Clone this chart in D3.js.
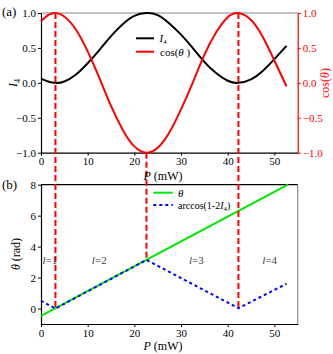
<!DOCTYPE html>
<html>
<head>
<meta charset="utf-8">
<script src="https://cdn.jsdelivr.net/npm/d3@7"></script>
<style>
  body { margin: 0; background: #fff; }
  svg text { font-family: "Liberation Serif", "DejaVu Serif", serif; }
</style>
</head>
<body>
<svg id="chart" width="333" height="354"></svg>
<script>
// power axis samples (mW)
const P = [0, 1.5, 3.1, 5, 7.5, 10, 12.5, 15, 17.5, 20, 22.6, 25, 27.5, 30, 32.5, 35, 37.5, 40, 42.3, 45, 47.5, 50, 52.6]
// panel (a)
const cosTheta = [0.88, 0.97, 1.00, 0.95, 0.76, 0.45, 0.07, -0.33, -0.67, -0.91, -1.00, -0.93, -0.71, -0.38, 0.00, 0.40, 0.72, 0.94, 1.00, 0.90, 0.66, 0.32, -0.05]
const I4 = [0.06, 0.02, 0.00, 0.02, 0.12, 0.28, 0.47, 0.67, 0.84, 0.96, 1.00, 0.97, 0.85, 0.69, 0.50, 0.30, 0.14, 0.03, 0.00, 0.05, 0.17, 0.34, 0.53]
// panel (b)
const thetaP = [0, 52.9]
const theta = [-0.48, 8.0]
const arcP = [0, 3.1, 22.6, 42.3, 52.6]
const arcV = [0.5, 0.0, 3.14, 0.02, 1.6]
// red markers
const markP = [3.1, 22.6, 42.3]
const markCos = [1, -1, 1]
const markTheta = [0, 3.14, 0.02]
const regionP = [0.3, 10.9, 31.7, 47.4]
const regionLbl = ['1', '2', '3', '4']

const xTicks = [0, 10, 20, 30, 40, 50]
const aTicks = [-1, -0.5, 0, 0.5, 1]
const bTicks = [0, 2, 4, 6, 8]

const svg = d3.select('#chart')
const x = d3.scaleLinear().domain([0, 55]).range([41, 297.7])
const ya = d3.scaleLinear().domain([-1, 1]).range([152.7, 13])
const yb = d3.scaleLinear().domain([-1, 8]).range([324, 184.7])

function styleAxis(g, color) {
  g.select('.domain').attr('stroke', color).attr('stroke-width', 1.2)
  g.selectAll('.tick line').attr('stroke', color)
  g.selectAll('.tick text').attr('fill', color).attr('font-size', 11)
    .attr('font-family', '"Liberation Serif", serif')
}

// ---- panel (a)
svg.append('line').attr('x1', x(0)).attr('x2', x(55)).attr('y1', ya(1)).attr('y2', ya(1))
  .attr('stroke', '#888').attr('stroke-width', 1.2)
svg.append('g').attr('transform', `translate(0,${ya(-1)})`)
  .call(d3.axisBottom(x).tickValues(xTicks).tickSize(3).tickPadding(2).tickSizeOuter(0))
  .call(g => styleAxis(g, '#000'))
svg.append('g').attr('transform', `translate(${x(0)},0)`)
  .call(d3.axisLeft(ya).tickValues(aTicks).tickFormat(d3.format('.1f')).tickSize(3).tickPadding(2).tickSizeOuter(0))
  .call(g => styleAxis(g, '#000'))
svg.append('g').attr('transform', `translate(${x(55)},0)`)
  .call(d3.axisRight(ya).tickValues(aTicks).tickFormat(d3.format('.1f')).tickSize(3).tickPadding(2).tickSizeOuter(0))
  .call(g => styleAxis(g, '#f00'))

const lineA = vals => d3.line().x((d, i) => x(P[i])).y(d => ya(d)).curve(d3.curveNatural)(vals)
svg.append('path').attr('d', lineA(I4)).attr('fill', 'none').attr('stroke', '#000').attr('stroke-width', 2)
svg.append('path').attr('d', lineA(cosTheta)).attr('fill', 'none').attr('stroke', '#f00').attr('stroke-width', 2)

// ---- panel (b)
svg.append('line').attr('x1', x(0)).attr('x2', x(55)).attr('y1', yb(8)).attr('y2', yb(8))
  .attr('stroke', '#000').attr('stroke-width', 1.2)
svg.append('line').attr('x1', x(55)).attr('x2', x(55)).attr('y1', yb(8)).attr('y2', yb(-1))
  .attr('stroke', '#888').attr('stroke-width', 1.2)
svg.append('g').attr('transform', `translate(0,${yb(-1)})`)
  .call(d3.axisBottom(x).tickValues(xTicks).tickSize(3).tickPadding(2).tickSizeOuter(0))
  .call(g => styleAxis(g, '#000'))
svg.append('g').attr('transform', `translate(${x(0)},0)`)
  .call(d3.axisLeft(yb).tickValues(bTicks).tickSize(3).tickPadding(2).tickSizeOuter(0))
  .call(g => styleAxis(g, '#000'))

svg.append('path').attr('d', d3.line().x((d, i) => x(thetaP[i])).y(d => yb(d))(theta))
  .attr('fill', 'none').attr('stroke', '#00e600').attr('stroke-width', 2)
svg.append('path').attr('d', d3.line().x((d, i) => x(arcP[i])).y(d => yb(d))(arcV))
  .attr('fill', 'none').attr('stroke', '#0000ff').attr('stroke-width', 2).attr('stroke-dasharray', '3,3')

// red dashed markers across both panels
markP.forEach((p, i) => {
  svg.append('line').attr('x1', x(p)).attr('x2', x(p))
    .attr('y1', ya(markCos[i])).attr('y2', yb(markTheta[i]))
    .attr('stroke', '#f00').attr('stroke-width', 2).attr('stroke-dasharray', '6,3')
})

// region labels
regionP.forEach((p, i) => {
  const t = svg.append('text').attr('x', x(p)).attr('y', yb(2.9)).attr('font-size', 11).attr('fill', '#444')
  t.append('tspan').attr('font-style', 'italic').text('l')
  t.append('tspan').text('=' + regionLbl[i])
})

// ---- titles
const title = (tx, ty, rot, color) => svg.append('text')
  .attr('transform', `translate(${tx},${ty}) rotate(${rot})`)
  .attr('text-anchor', 'middle').attr('font-size', 12).attr('fill', color)

let t = title(163, 180, 0, '#000')
t.append('tspan').attr('font-style', 'italic').text('P')
t.append('tspan').text(' (mW)')
t = title(163, 350, 0, '#000')
t.append('tspan').attr('font-style', 'italic').text('P')
t.append('tspan').text(' (mW)')
t = title(17, 83, -90, '#000')
t.append('tspan').attr('font-style', 'italic').text('I')
t.append('tspan').attr('font-size', 8).attr('dy', 3).text('4')
t = title(329, 83, -90, '#f00')
t.append('tspan').text('cos(')
t.append('tspan').attr('font-style', 'italic').text('θ')
t.append('tspan').text(')')
t = title(20, 254, -90, '#000')
t.append('tspan').attr('font-style', 'italic').text('θ')
t.append('tspan').text(' (rad)')

svg.append('text').attr('x', 2).attr('y', 16).attr('font-size', 13).text('(a)')
svg.append('text').attr('x', 2).attr('y', 189).attr('font-size', 13).text('(b)')

// ---- legends
const legA = [{ c: '#000', y: 38.3 }, { c: '#f00', y: 51.7 }]
legA.forEach(d => svg.append('line').attr('x1', 136).attr('x2', 154).attr('y1', d.y).attr('y2', d.y)
  .attr('stroke', d.c).attr('stroke-width', 2))
t = svg.append('text').attr('x', 159.5).attr('y', 42).attr('font-size', 11)
t.append('tspan').attr('font-style', 'italic').text('I')
t.append('tspan').attr('font-size', 7).attr('dy', 2).text('4')
t = svg.append('text').attr('x', 160).attr('y', 55.5).attr('font-size', 11)
t.append('tspan').text('cos(')
t.append('tspan').attr('font-style', 'italic').text('θ')
t.append('tspan').text(' )')

svg.append('line').attr('x1', 153.3).attr('x2', 172.7).attr('y1', 192.7).attr('y2', 192.7)
  .attr('stroke', '#00e600').attr('stroke-width', 2)
svg.append('line').attr('x1', 153.3).attr('x2', 172.7).attr('y1', 205).attr('y2', 205)
  .attr('stroke', '#0000ff').attr('stroke-width', 2).attr('stroke-dasharray', '3,3')
svg.append('text').attr('x', 178).attr('y', 196.5).attr('font-size', 11).attr('font-style', 'italic').text('θ')
t = svg.append('text').attr('x', 178).attr('y', 208.5).attr('font-size', 10)
t.append('tspan').text('arccos(1-2')
t.append('tspan').attr('font-style', 'italic').text('I')
t.append('tspan').attr('font-size', 7).attr('dy', 2).text('4')
t.append('tspan').attr('dy', -2).text(')')
</script>
</body>
</html>
